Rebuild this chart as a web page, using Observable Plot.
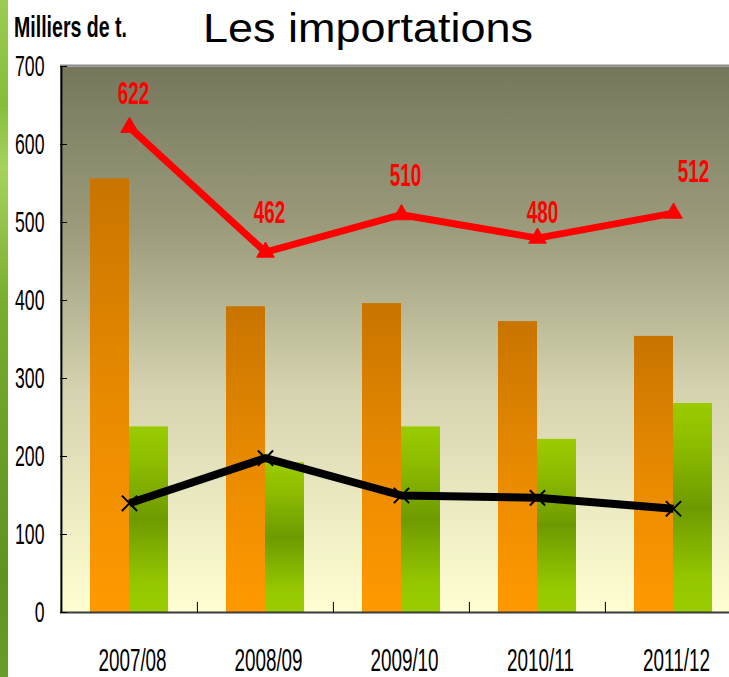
<!DOCTYPE html>
<html>
<head>
<meta charset="utf-8">
<script src="https://cdn.jsdelivr.net/npm/d3@7"></script>
<script src="https://cdn.jsdelivr.net/npm/@observablehq/plot@0.6"></script>
<style>
  html, body { margin: 0; padding: 0; background: #ffffff; }
  #wrap { position: relative; width: 729px; height: 677px; overflow: hidden; }
  #stripe { position: absolute; left: 0; top: 0; width: 8px; height: 677px;
    background: linear-gradient(to bottom, #9ccc52 0%, #86bd3c 15%, #a6d25c 25%, #78ad2e 45%, #6c9f26 65%, #5f9220 85%, #6a9c28 100%); }
  #chart { position: absolute; left: 0; top: 0; }
  #titles { position: absolute; left: 0; top: 0; }
</style>
</head>
<body>
<div id="wrap">
  <svg width="0" height="0" style="position:absolute">
    <defs>
      <linearGradient id="bgGrad" x1="0" y1="0" x2="0" y2="1">
        <stop offset="0%" stop-color="#76765c"/>
        <stop offset="30%" stop-color="#9c9c7c"/>
        <stop offset="60%" stop-color="#d6d4b0"/>
        <stop offset="100%" stop-color="#ffffd2"/>
      </linearGradient>
      <linearGradient id="orangeGrad" x1="0" y1="0" x2="0" y2="1">
        <stop offset="0%" stop-color="#c87400"/>
        <stop offset="50%" stop-color="#e88a00"/>
        <stop offset="100%" stop-color="#ff9900"/>
      </linearGradient>
      <linearGradient id="greenGrad" x1="0" y1="0" x2="0" y2="1">
        <stop offset="0%" stop-color="#9acc00"/>
        <stop offset="20%" stop-color="#8dbc00"/>
        <stop offset="50%" stop-color="#6e9a00"/>
        <stop offset="85%" stop-color="#96c800"/>
        <stop offset="100%" stop-color="#9acc00"/>
      </linearGradient>
    </defs>
  </svg>
  <div id="stripe"></div>
  <div id="chart"></div>
  <svg id="titles" width="729" height="60">
    <text x="14" y="37" font-family="Liberation Sans, Arial, sans-serif" font-weight="bold" font-size="29" textLength="113" lengthAdjust="spacingAndGlyphs">Milliers de t.</text>
    <text x="203" y="42" font-family="Liberation Sans, Arial, sans-serif" font-size="41" textLength="330" lengthAdjust="spacingAndGlyphs">Les importations</text>
  </svg>
</div>
<script>
const categories = ["2007/08", "2008/09", "2009/10", "2010/11", "2011/12"];
const orangeValues = [556, 392, 396, 373, 354];
const greenValues = [238, 192, 238, 222, 268];
const blackValues = [140, 198, 150, 147, 133];
const redValues = [622, 462, 510, 480, 512];
const yTicks = [0, 100, 200, 300, 400, 500, 600, 700];

const rows = categories.map((c, i) => ({
  cat: c, orange: orangeValues[i], green: greenValues[i],
  black: blackValues[i], red: redValues[i], i
}));

const W = 729, H = 677, mL = 60, mR = 0, mT = 66, mB = 65;
const xRange = [60, 741];
const bw = (xRange[1] - xRange[0]) / categories.length;
const frameH = H - mT - mB;
const frameW = W - mL - mR;

const redLabel = (filter, dx, dy) => Plot.text(rows, {
  filter, x: "cat", y: "red", text: d => String(d.red), dx, dy,
  fill: "#ff0000", fontWeight: "bold", fontSize: 32
});

const chart = Plot.plot({
  width: W, height: H,
  marginLeft: mL, marginRight: mR, marginTop: mT, marginBottom: mB,
  style: { background: "transparent", fontFamily: "Liberation Sans, Arial, sans-serif", color: "#000", overflow: "visible" },
  x: { domain: categories, range: xRange, padding: 0, axis: null, label: null },
  y: { domain: [0, 700], axis: null, label: null },
  marks: [
    Plot.frame({ fill: "url(#bgGrad)", stroke: null }),
    Plot.ruleY([700], { stroke: "#8c8c8c", strokeWidth: 2, dy: -1 }),
    Plot.barY(rows, { x: "cat", y: "orange", fill: "url(#orangeGrad)", insetLeft: 29, insetRight: 68 }),
    Plot.barY(rows, { x: "cat", y: "green", fill: "url(#greenGrad)", insetLeft: 68, insetRight: 29 }),
    Plot.line(rows, { x: "cat", y: "black", stroke: "#000", strokeWidth: 8, strokeLinejoin: "miter", strokeLinecap: "butt" }),
    Plot.dot(rows, { x: "cat", y: "black", symbol: "times", r: 7, stroke: "#000", strokeWidth: 2 }),
    Plot.line(rows, { x: "cat", y: "red", stroke: "#ff0000", strokeWidth: 7, strokeLinejoin: "miter", strokeLinecap: "butt" }),
    Plot.dot(rows, { x: "cat", y: "red", symbol: "triangle", r: 6.5, fill: "#ff0000", stroke: "#ff0000", strokeWidth: 1 }),
    redLabel(d => d.i === 0, 4, -34),
    redLabel(d => d.i === 1 || d.i === 2, 4, -39),
    redLabel(d => d.i === 3, 5, -25),
    redLabel(d => d.i === 4, 20, -41),
    // bottom axis line and boundary ticks
    Plot.ruleY([0], { stroke: "#3a3a3a", strokeWidth: 2 }),
    Plot.ruleX(categories, { x: d => d, dx: -bw / 2, stroke: "#000", strokeWidth: 1, insetTop: frameH - 10 }),
    // left axis line
    Plot.ruleX([categories[0]], { x: d => d, dx: -bw / 2, stroke: "#000", strokeWidth: 2 }),
    // inward y ticks
    Plot.tickY(yTicks, { y: d => d, stroke: "#000", strokeWidth: 1, insetRight: frameW - 7 }),
    Plot.axisY(yTicks, { tickSize: 0, tickPadding: 16, fontSize: 30, anchor: "left", label: null }),
    Plot.axisX(categories, { tickSize: 0, tickPadding: 36, fontSize: 32, dx: 3, anchor: "bottom", label: null })
  ]
});

document.getElementById("chart").appendChild(chart);

// condensed lettering like the original (narrow, tall figures)
d3.select(chart).selectAll("text").each(function () {
  const w = this.getComputedTextLength();
  if (w > 0) {
    this.setAttribute("textLength", (w * 0.59).toFixed(1));
    this.setAttribute("lengthAdjust", "spacingAndGlyphs");
  }
});
</script>
</body>
</html>
